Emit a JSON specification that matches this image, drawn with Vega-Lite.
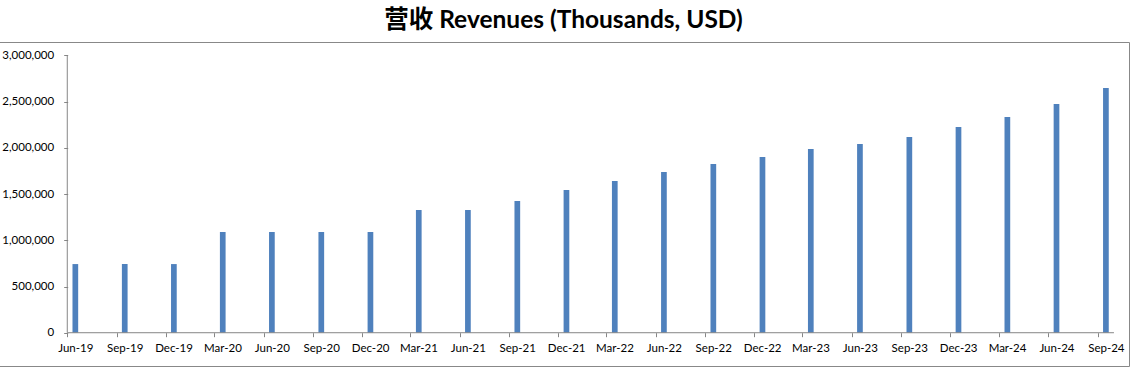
{
  "$schema": "https://vega.github.io/schema/vega-lite/v6.json",
  "width": 1131,
  "height": 324,
  "autosize": "none",
  "padding": {"left": -2, "top": 42, "right": 12, "bottom": 5},
  "background": "white",
  "title": {
    "text": "营收 Revenues (Thousands, USD)",
    "font": "Lato, Noto Sans CJK SC",
    "fontSize": 24.5,
    "fontWeight": "bold",
    "color": "#000000",
    "anchor": "middle",
    "baseline": "alphabetic",
    "offset": 12,
    "dy": 22
  },
  "config": {
    "view": {"stroke": "#888888", "strokeWidth": 1},
    "axis": {
      "labelFont": "Lato",
      "labelFontSize": 11.5,
      "labelColor": "#000000",
      "tickColor": "#868686",
      "domain": false,
      "grid": false,
      "title": null
    }
  },
  "datasets": {
    "rev": [
      {"date": "2019-06-01", "revenue": 743000},
      {"date": "2019-09-01", "revenue": 743000},
      {"date": "2019-12-01", "revenue": 743000},
      {"date": "2020-03-01", "revenue": 1090000},
      {"date": "2020-06-01", "revenue": 1090000},
      {"date": "2020-09-01", "revenue": 1090000},
      {"date": "2020-12-01", "revenue": 1090000},
      {"date": "2021-03-01", "revenue": 1328000},
      {"date": "2021-06-01", "revenue": 1328000},
      {"date": "2021-09-01", "revenue": 1425000},
      {"date": "2021-12-01", "revenue": 1544000},
      {"date": "2022-03-01", "revenue": 1642000},
      {"date": "2022-06-01", "revenue": 1739000},
      {"date": "2022-09-01", "revenue": 1826000},
      {"date": "2022-12-01", "revenue": 1902000},
      {"date": "2023-03-01", "revenue": 1988000},
      {"date": "2023-06-01", "revenue": 2042000},
      {"date": "2023-09-01", "revenue": 2118000},
      {"date": "2023-12-01", "revenue": 2226000},
      {"date": "2024-03-01", "revenue": 2334000},
      {"date": "2024-06-01", "revenue": 2475000},
      {"date": "2024-09-01", "revenue": 2648000}
    ]
  },
  "layer": [
    {
      "data": {"name": "rev"},
      "mark": {"type": "bar", "color": "#4F81BD", "width": 5.7},
      "encoding": {
        "x": {
          "field": "date",
          "type": "temporal",
          "timeUnit": "utcyearmonth",
          "bandPosition": 0.5,
          "scale": {
            "type": "utc",
            "domain": [
              {"year": 2019, "month": 1, "date": 23, "utc": true},
              {"year": 2024, "month": 10, "date": 29, "utc": true}
            ]
          },
          "axis": {
            "values": [
              {"year": 2019, "month": 6, "date": 1, "utc": true},
              {"year": 2019, "month": 9, "date": 1, "utc": true},
              {"year": 2019, "month": 12, "date": 1, "utc": true},
              {"year": 2020, "month": 3, "date": 1, "utc": true},
              {"year": 2020, "month": 6, "date": 1, "utc": true},
              {"year": 2020, "month": 9, "date": 1, "utc": true},
              {"year": 2020, "month": 12, "date": 1, "utc": true},
              {"year": 2021, "month": 3, "date": 1, "utc": true},
              {"year": 2021, "month": 6, "date": 1, "utc": true},
              {"year": 2021, "month": 9, "date": 1, "utc": true},
              {"year": 2021, "month": 12, "date": 1, "utc": true},
              {"year": 2022, "month": 3, "date": 1, "utc": true},
              {"year": 2022, "month": 6, "date": 1, "utc": true},
              {"year": 2022, "month": 9, "date": 1, "utc": true},
              {"year": 2022, "month": 12, "date": 1, "utc": true},
              {"year": 2023, "month": 3, "date": 1, "utc": true},
              {"year": 2023, "month": 6, "date": 1, "utc": true},
              {"year": 2023, "month": 9, "date": 1, "utc": true},
              {"year": 2023, "month": 12, "date": 1, "utc": true},
              {"year": 2024, "month": 3, "date": 1, "utc": true},
              {"year": 2024, "month": 6, "date": 1, "utc": true},
              {"year": 2024, "month": 9, "date": 1, "utc": true}
            ],
            "format": "%b-%y",
            "labelOffset": 8,
            "tickSize": 4,
            "labelPadding": 6,
            "offset": -33.3,
            "labelFlush": false,
            "labelOverlap": false,
            "bandPosition": 0
          }
        },
        "y": {
          "field": "revenue",
          "type": "quantitative",
          "scale": {"domain": [-360000, 3146000], "nice": false, "zero": false},
          "axis": {
            "values": [0, 500000, 1000000, 1500000, 2000000, 2500000, 3000000],
            "format": ",d",
            "tickSize": 4,
            "labelPadding": 10,
            "offset": -69.7
          }
        },
        "y2": {"datum": 0}
      }
    },
    {
      "data": {"values": [{"start": "2019-06-01", "end": "2024-10-01", "level": 0}]},
      "mark": {"type": "rule", "color": "#868686", "strokeWidth": 1},
      "encoding": {
        "x": {"field": "start", "type": "temporal"},
        "x2": {"field": "end"},
        "y": {"field": "level", "type": "quantitative"}
      }
    },
    {
      "data": {"values": [{"at": "2019-06-01", "low": 0, "high": 3000000}]},
      "mark": {"type": "rule", "color": "#868686", "strokeWidth": 1},
      "encoding": {
        "x": {"field": "at", "type": "temporal"},
        "y": {"field": "low", "type": "quantitative"},
        "y2": {"field": "high"}
      }
    }
  ]
}
